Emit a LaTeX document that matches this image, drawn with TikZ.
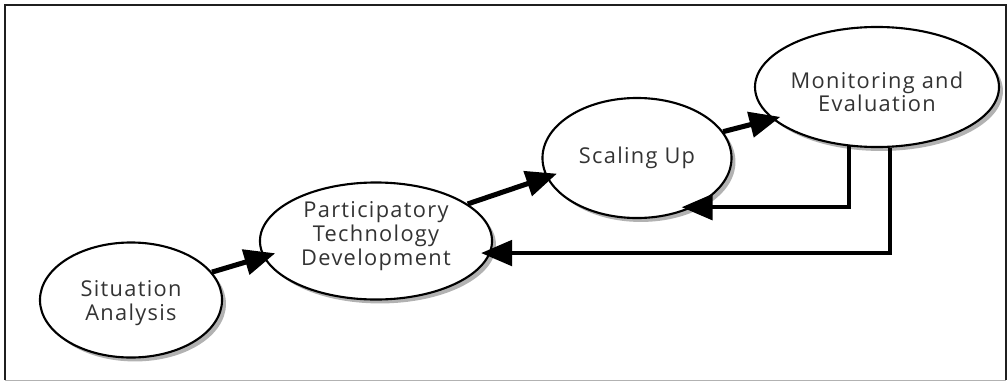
\documentclass[tikz,border=0pt]{standalone}
\usepackage{fontspec}
\setmainfont[LetterSpace=6]{Open Sans}
\usetikzlibrary{arrows.meta,shapes.geometric,shadows}
\tikzset{
   stage/.style={ ellipse, draw=black, line width=1.5pt, fill=white, inner sep=0pt, align=center, text=black!80,
                  font=\fontsize{15.5}{16.8}\selectfont,
                  drop shadow={shadow xshift=2.8pt, shadow yshift=-2.8pt, fill=black!30, opacity=1}},
   flow/.style={ line width=3.6pt, -{Triangle[length=22pt,width=18pt]}},
   feedback/.style={ line width=2.9pt, -{Triangle[length=22pt,width=18pt]}},
   frame/.style={ line width=1.8pt, draw=black!88},
}

\begin{document}
\begin{tikzpicture}[x=0.025cm,y=-0.025cm]

  \useasboundingbox (0,0) rectangle (1008,382);

  %% Frame
  \draw[frame] (5,380) |- (1006,5) -- (1006,380);
  \draw[black!30, line width=1pt] (5,380.5) -- (1006,380.5);

  \node[stage, minimum width=4.55cm, minimum height=2.875cm] at (131,300) (situation) {Situation\\Analysis\vspace{-4pt}};
  \node[stage, minimum width=5.8cm,  minimum height=2.925cm] at (376,241) (ptd)       {Participatory\\Technology\\Development\vspace{7pt}};
  \node[stage, minimum width=4.725cm,minimum height=3cm]     at (637,158) (scaling)   {Scaling Up};
  \node[stage, minimum width=5.225cm,minimum height=3cm]     at (877,87)  (monitor)   {Monitoring and\\Evaluation\vspace{-7pt}};

  \draw[flow, shorten >=-9pt] (situation.19) -- (ptd.188);
  \draw[flow, shorten >=-8pt] (ptd.22)       -- (scaling.192);
  \draw[flow, shorten >=-6pt] (scaling.17)   -- (monitor.197);

  %% Feedback
  \draw[feedback, shorten >=-8.5pt] (monitor.245) |- (scaling.-41);
  \draw[feedback, shorten >=-6.8pt] (monitor.282) |- (ptd.-6);

\end{tikzpicture}
\end{document}
